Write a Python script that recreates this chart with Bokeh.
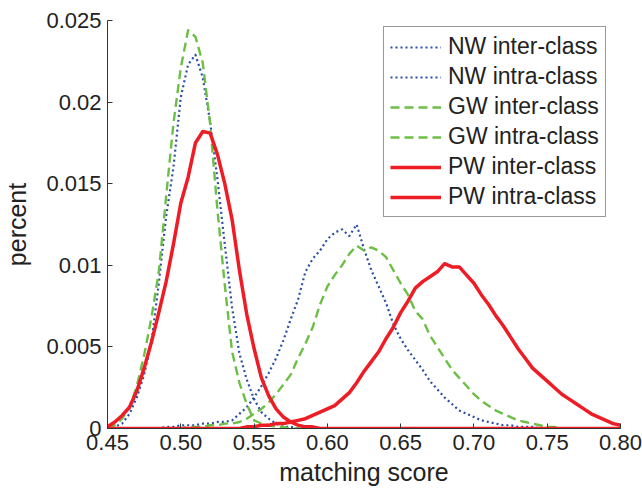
from bokeh.plotting import figure
from bokeh.models import FixedTicker, Range1d
from bokeh.embed import file_html
from bokeh.resources import INLINE
import numpy as np

# ---------------- data ----------------
x_grid = np.round(np.linspace(0.45, 0.80, 71), 3)

nw_inter = [0.0000, 0.0001, 0.0003, 0.0009, 0.0019, 0.0033, 0.0053, 0.0089, 0.0130, 0.0160,
            0.0203, 0.0223, 0.0229, 0.0215, 0.0188, 0.0153, 0.0113, 0.0074, 0.0046, 0.0030,
            0.0018, 0.0010, 0.0006, 0.0003, 0.0001, 0.0001,
            0, 0, 0, 0, 0, 0, 0, 0, 0, 0, 0, 0, 0, 0, 0, 0, 0, 0, 0, 0, 0, 0, 0, 0,
            0, 0, 0, 0, 0, 0, 0, 0, 0, 0, 0, 0, 0, 0, 0, 0, 0, 0, 0, 0, 0]

gw_inter = [0.0000, 0.0002, 0.0006, 0.0013, 0.0026, 0.0045, 0.0068, 0.0096, 0.0142, 0.0187,
            0.0221, 0.0244, 0.0240, 0.0224, 0.0187, 0.0134, 0.0088, 0.0047, 0.0028, 0.0015,
            0.0005, 0.0003, 0.0002, 0.0001, 0.0001,
            0, 0, 0, 0, 0, 0, 0, 0, 0, 0, 0, 0, 0, 0, 0, 0, 0, 0, 0, 0, 0, 0, 0, 0,
            0, 0, 0, 0, 0, 0, 0, 0, 0, 0, 0, 0, 0, 0, 0, 0, 0, 0, 0, 0, 0, 0]

pw_inter = [0.0001, 0.0004, 0.0008, 0.0013, 0.0023, 0.0037, 0.0053, 0.0071, 0.0090, 0.0113,
            0.0138, 0.0154, 0.0175, 0.0182, 0.0181, 0.0168, 0.0150, 0.0128, 0.0097, 0.0070,
            0.0049, 0.0031, 0.0020, 0.0012, 0.0007, 0.0004, 0.0002, 0.0001, 0.0001,
            0, 0, 0, 0, 0, 0, 0, 0, 0, 0, 0, 0, 0, 0, 0, 0, 0, 0, 0, 0, 0, 0,
            0, 0, 0, 0, 0, 0, 0, 0, 0, 0, 0, 0, 0, 0, 0, 0, 0, 0, 0, 0, 0]

nw_intra = [0, 0, 0, 0, 0, 0, 0, 0,
            0.0001, 0.0001, 0.0002, 0.0002, 0.0002, 0.0003, 0.0003, 0.0004, 0.0004, 0.0005,
            0.0009, 0.0013, 0.0019, 0.0026, 0.0034, 0.0043, 0.0054, 0.0067, 0.0079, 0.0096,
            0.0104, 0.0109, 0.0116, 0.0120, 0.0122, 0.0118, 0.0125, 0.0110, 0.0097, 0.0087,
            0.0077, 0.0064, 0.0055, 0.0048, 0.0042, 0.0036, 0.0029, 0.0024, 0.0019, 0.0015,
            0.0011, 0.0009, 0.0007, 0.0005, 0.0004, 0.0003, 0.0002, 0.0002, 0.0001, 0.0001,
            0.0001,
            0, 0, 0, 0, 0, 0, 0, 0, 0, 0, 0, 0]

gw_intra = [0, 0, 0, 0, 0, 0, 0, 0, 0, 0, 0,
            0.0001, 0.0001, 0.0001, 0.0002, 0.0002, 0.0003, 0.0003, 0.0004, 0.0006, 0.0009,
            0.0012, 0.0016, 0.0021, 0.0027, 0.0033, 0.0043, 0.0052, 0.0062, 0.0076, 0.0087,
            0.0094, 0.0100, 0.0107, 0.0112, 0.0109, 0.0111, 0.0109, 0.0105, 0.0097, 0.0089,
            0.0082, 0.0072, 0.0067, 0.0057, 0.0050, 0.0043, 0.0036, 0.0031, 0.0026, 0.0021,
            0.0017, 0.0014, 0.0011, 0.0009, 0.0007, 0.0005, 0.0004, 0.0003, 0.0002, 0.0001,
            0.0001,
            0, 0, 0, 0, 0, 0, 0, 0, 0]

pw_intra = [0, 0, 0, 0, 0, 0, 0, 0, 0, 0, 0, 0, 0, 0, 0, 0, 0, 0, 0,
            0.0001, 0.0001, 0.0002, 0.0002, 0.0003, 0.0003, 0.0004, 0.0005, 0.0006, 0.0008,
            0.0010, 0.0012, 0.0014, 0.0018, 0.0022, 0.0028, 0.0035, 0.0041, 0.0047, 0.0055,
            0.0062, 0.0071, 0.0078, 0.0086, 0.0090, 0.0093, 0.0096, 0.0101, 0.0099, 0.0099,
            0.0094, 0.0089, 0.0082, 0.0076, 0.0069, 0.0063, 0.0056, 0.0049, 0.0043, 0.0037,
            0.0033, 0.0029, 0.0025, 0.0021, 0.0018, 0.0015, 0.0012, 0.0009, 0.0007, 0.0005,
            0.0003, 0.0002]

x_ticks = [0.45, 0.50, 0.55, 0.60, 0.65, 0.70, 0.75, 0.80]
x_tick_labels = ["0.45", "0.50", "0.55", "0.60", "0.65", "0.70", "0.75", "0.80"]
y_ticks = [0, 0.005, 0.01, 0.015, 0.02, 0.025]
y_tick_labels = ["0", "0.005", "0.01", "0.015", "0.02", "0.025"]

series = [
    ("NW inter-class", nw_inter),
    ("NW intra-class", nw_intra),
    ("GW inter-class", gw_inter),
    ("GW intra-class", gw_intra),
    ("PW inter-class", pw_inter),
    ("PW intra-class", pw_intra),
]

# ---------------- styles ----------------
FONT = "Liberation Sans"
BLUE = "#2a4ea6"
GREEN = "#6cbf45"
RED = "#ee1c25"
styles = {
    "NW": dict(line_color=BLUE, line_width=2.2, line_dash="2 3"),
    "GW": dict(line_color=GREEN, line_width=2.4, line_dash="9 5"),
    "PW": dict(line_color=RED, line_width=3.5, line_dash="solid"),
}

W, H = 642, 488
p = figure(width=W, height=H, output_backend="svg", toolbar_location=None,
           x_range=Range1d(0.45, 0.80), y_range=Range1d(0, 0.025),
           min_border_left=107, min_border_right=W - 620, min_border_top=20,
           min_border_bottom=H - 430)
p.outline_line_color = None
p.xgrid.visible = False
p.ygrid.visible = False
p.background_fill_color = "white"
p.border_fill_color = "white"

for name, vals in series:
    st = styles[name[:2]]
    p.line(x_grid, vals, legend_label=name, line_join="round", **st)

for ax, ticks, labels in ((p.xaxis[0], x_ticks, x_tick_labels), (p.yaxis[0], y_ticks, y_tick_labels)):
    ax.ticker = FixedTicker(ticks=ticks)
    ax.major_label_overrides = {t: l for t, l in zip(ticks, labels)}
    ax.major_tick_in = 5
    ax.major_tick_out = 0
    ax.minor_tick_in = 0
    ax.minor_tick_out = 0
    ax.axis_line_color = "#333333"
    ax.major_tick_line_color = "#333333"
    ax.major_label_text_font = FONT
    ax.major_label_text_font_size = "22px"
    ax.major_label_text_color = "#222222"
    ax.axis_label_text_font = FONT
    ax.axis_label_text_font_size = "25px"
    ax.axis_label_text_font_style = "normal"
    ax.axis_label_text_color = "#222222"

p.xaxis.axis_label = "matching score"
p.yaxis.axis_label = "percent"
p.xaxis.major_label_standoff = 6
p.xaxis.axis_label_standoff = 5
p.yaxis.major_label_standoff = 6
p.yaxis.axis_label_standoff = 12

lg = p.legend[0]
lg.location = (276, 211)
lg.margin = 0
lg.border_line_color = "#333333"
lg.border_line_width = 1.5
lg.background_fill_alpha = 1.0
lg.label_text_font = FONT
lg.label_text_font_size = "23px"
lg.label_text_color = "#222222"
lg.glyph_width = 51
lg.glyph_height = 20
lg.label_height = 20
lg.label_standoff = 7
lg.padding = 6
lg.spacing = 3

open("out.html", "w").write(file_html(p, INLINE))
